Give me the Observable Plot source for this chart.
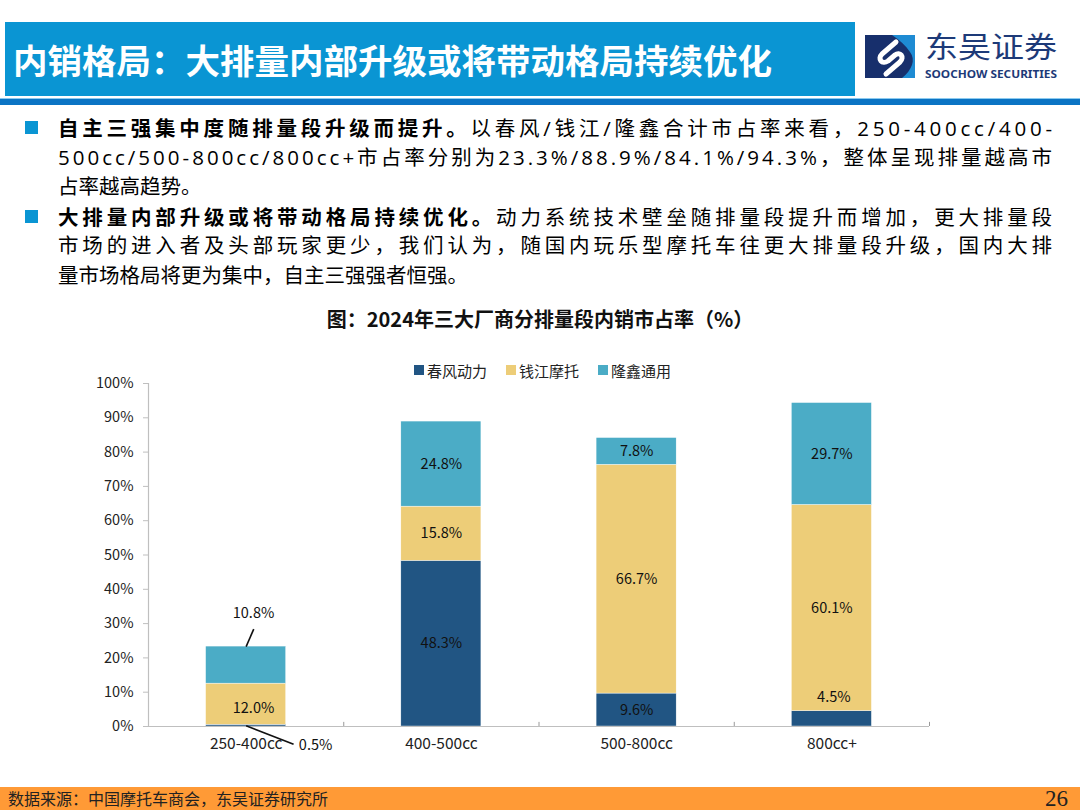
<!DOCTYPE html>
<html>
<head>
<meta charset="utf-8">
<script src="https://cdn.jsdelivr.net/npm/d3@7"></script>
<script src="https://cdn.jsdelivr.net/npm/@observablehq/plot@0.6"></script>
<style>
  html, body { margin: 0; padding: 0; background: #fff; }
  body { width: 1080px; height: 810px; position: relative; overflow: hidden; font-family: "Noto Sans CJK SC", "Noto Sans", sans-serif; }
  .abs { position: absolute; }
  #hdr { left: 5px; top: 22px; width: 850px; height: 74px; background: #0A95D3; }
  #hdr span { position: absolute; left: 8px; top: 0; line-height: 74px; font-size: 34.5px; font-weight: 700; color: #fff; white-space: nowrap; }
  #rule { left: 0; top: 98px; width: 1080px; height: 6px; background: #0B74C4; border-top: 1px solid #8CCBF0; }
  .line { position: absolute; left: 58px; height: 29.5px; line-height: 29.5px; font-size: 20.5px; color: #000; white-space: nowrap; font-family: "Open Sans", "Noto Sans CJK SC", sans-serif; }
  .line b { font-family: "Noto Sans CJK SC", sans-serif; }
  .sq { position: absolute; left: 25px; width: 13px; height: 13px; background: #0A95D3; }
  #ctitle { left: 0; width: 1080px; top: 304px; text-align: center; font-size: 20px; font-weight: 700; color: #111; }
  #legend { left: 414px; top: 358px; font-size: 15px; color: #222; white-space: nowrap; }
  #legend .item { display: inline-flex; align-items: center; margin-right: 19px; }
  #legend .sw { width: 10px; height: 10px; margin-right: 3px; display: inline-block; }
  #chart { left: 0; top: 350px; }
  #footer { left: 0; top: 787px; width: 1080px; height: 23px; background: #FF9A36; }
  #footer .src { position: absolute; left: 8px; top: 0; line-height: 23px; font-size: 16px; color: #222; }
  #footer .pg { position: absolute; right: 12px; top: -2px; line-height: 27px; font-size: 23px; color: #222; font-family: "Liberation Serif", "DejaVu Serif", serif; }
  #chart svg [aria-label="y-axis tick"] { stroke: #BFBFBF; }
  #chart svg [aria-label="x-axis tick label"], #chart svg g[aria-label="x-axis"] text { font-size: 15.5px; }
  #chart svg [aria-label="y-axis tick label"], #chart svg g[aria-label="y-axis"] text { font-size: 14.5px; }
</style>
</head>
<body>
<script>
// ---- data ----
const categories = ["250-400cc", "400-500cc", "500-800cc", "800cc+"];
const seriesNames = ["春风动力", "钱江摩托", "隆鑫通用"];
const seriesColors = ["#215583", "#EDCD78", "#4BACC6"];
const chunfeng = [0.5, 48.3, 9.6, 4.5];
const qianjiang = [12.0, 15.8, 66.7, 60.1];
const longxin = [10.8, 24.8, 7.8, 29.7];
const yTicks = [0, 10, 20, 30, 40, 50, 60, 70, 80, 90, 100];

// labels that sit outside the middle of their segment (annotation placement)
const labelPlacement = [
  {category: "250-400cc", series: "春风动力", y: -5.4, dx: 0.27, anchor: "start"},
  {category: "250-400cc", series: "钱江摩托", y: 5.4, dx: 0.038, anchor: "middle"},
  {category: "250-400cc", series: "隆鑫通用", y: 32.9, dx: 0.038, anchor: "middle"},
  {category: "800cc+", series: "春风动力", y: 8.4, dx: 0.01, anchor: "middle"}
];
const leaderLines = [
  {category: "250-400cc", y1: 23.3, y2: 28.4, dx1: 0, dx2: 0.039},
  {category: "250-400cc", y1: 0.2, y2: -5.2, dx1: 0, dx2: 0.243}
];
</script>

<div id="hdr" class="abs"><span>内销格局：大排量内部升级或将带动格局持续优化</span></div>
<svg class="abs" style="left:862px;top:30px;overflow:visible" width="215" height="52" viewBox="0 0 215 52">
  <rect x="3" y="5" width="50" height="43" fill="#172F6C"/>
  <path d="M30 5 H53 V48 H40 C50 40 54 30 48 22 C44 16 38 10 30 5 Z" fill="#1E8BD3"/>
  <path d="M34 12 L20 24 C15 29 20 35 26 31 L33 25 C38 21 43 27 38 32 L24 44" fill="none" stroke="#fff" stroke-width="5" stroke-linecap="round" stroke-linejoin="round"/>
  <text x="63" y="27.5" font-size="29" fill="#1D3A78" font-family="Noto Sans CJK SC" textLength="132" lengthAdjust="spacingAndGlyphs">东吴证券</text>
  <text x="63" y="48" font-size="10.5" font-weight="700" fill="#1D3A78" font-family="Noto Sans, sans-serif" textLength="132" lengthAdjust="spacingAndGlyphs">SOOCHOW SECURITIES</text>
</svg>
<div id="rule" class="abs"></div>

<div class="sq" style="top:121px"></div>
<div class="line just" style="top:113px"><span><b>自主三强集中度随排量段升级而提升。</b>以春风/钱江/隆鑫合计市占率来看，250-400cc/400-</span></div>
<div class="line just" style="top:142.5px"><span>500cc/500-800cc/800cc+市占率分别为23.3%/88.9%/84.1%/94.3%，整体呈现排量越高市</span></div>
<div class="line" style="top:172px"><span>占率越高趋势。</span></div>
<div class="sq" style="top:209.5px"></div>
<div class="line just" style="top:201.5px"><span><b>大排量内部升级或将带动格局持续优化。</b>动力系统技术壁垒随排量段提升而增加，更大排量段</span></div>
<div class="line just" style="top:231px"><span>市场的进入者及头部玩家更少，我们认为，随国内玩乐型摩托车往更大排量段升级，国内大排</span></div>
<div class="line" style="top:260.5px"><span>量市场格局将更为集中，自主三强强者恒强。</span></div>

<div id="ctitle" class="abs">图：2024年三大厂商分排量段内销市占率（%）</div>
<div id="legend" class="abs"></div>
<div id="chart" class="abs"></div>

<div id="footer" class="abs"><span class="src">数据来源：中国摩托车商会，东吴证券研究所</span><span class="pg">26</span></div>

<script>
// justify full lines by even letter spacing
document.querySelectorAll(".line.just").forEach(el => {
  const span = el.firstElementChild;
  const w = span.getBoundingClientRect().width;
  const n = span.textContent.length;
  const ls = (994 - w) / (n - 1);
  el.style.letterSpacing = ls + "px";
});

const valuesBySeries = [chunfeng, qianjiang, longxin];
const rows = [];
categories.forEach((cat, i) => {
  let base = 0;
  seriesNames.forEach((s, k) => {
    const v = valuesBySeries[k][i];
    rows.push({category: cat, i, series: s, value: v, y1: base, y2: base + v, mid: base + v / 2});
    base += v;
  });
});
const labels = rows.map(r => {
  const p = labelPlacement.find(q => q.category === r.category && q.series === r.series);
  return {...r, ly: p ? p.y : r.mid, lx: r.i + (p ? p.dx : 0), anchor: p ? p.anchor : "middle", text: r.value.toFixed(1) + "%"};
});
const leaders = leaderLines.map(l => {
  const i = categories.indexOf(l.category);
  return {x1: i + l.dx1, x2: i + l.dx2, y1: l.y1, y2: l.y2};
});

// legend
const legend = document.getElementById("legend");
seriesNames.forEach((s, k) => {
  const it = document.createElement("span");
  it.className = "item";
  it.innerHTML = `<span class="sw" style="background:${seriesColors[k]}"></span>${s}`;
  legend.appendChild(it);
});

const bandHalfInset = 57.6;
const chart = Plot.plot({
  width: 1080,
  height: 420,
  marginLeft: 148,
  marginRight: 151,
  marginTop: 33,
  marginBottom: 44,
  style: {fontFamily: "Noto Sans CJK SC, Noto Sans, sans-serif", fontSize: "14px", color: "#222", background: "transparent", overflow: "visible"},
  x: {type: "linear", domain: [-0.5, categories.length - 0.5], ticks: categories.map((c, i) => i), tickFormat: i => categories[i], tickSize: 0, tickPadding: 11, label: null},
  y: {domain: [0, 100], ticks: yTicks, tickFormat: d => d + "%", tickSize: 5, tickPadding: 10, label: null},
  color: {domain: seriesNames, range: seriesColors},
  marks: [
    Plot.rectY(rows, {x1: d => d.i - 0.5, x2: d => d.i + 0.5, y1: "y1", y2: "y2", fill: "series", insetLeft: bandHalfInset, insetRight: bandHalfInset, stroke: "#ffffff", strokeWidth: 0.4}),
    Plot.ruleY([0], {stroke: "#BFBFBF", strokeWidth: 1.2}),
    Plot.ruleX([-0.5], {y1: 0, y2: 100, stroke: "#BFBFBF", strokeWidth: 1.2}),
    Plot.ruleX(categories.map((c, i) => i + 0.5), {y1: 0, y2: 1.2, stroke: "#999", strokeWidth: 1}),
    Plot.link(leaders, {x1: "x1", x2: "x2", y1: "y1", y2: "y2", stroke: "#111", strokeWidth: 1.6}),
    Plot.text(labels.filter(d => d.anchor === "middle"), {x: "lx", y: "ly", text: "text", textAnchor: "middle", fill: "#111", fontSize: 14.5}),
    Plot.text(labels.filter(d => d.anchor === "start"), {x: "lx", y: "ly", text: "text", textAnchor: "start", fill: "#111", fontSize: 14.5})
  ]
});
document.getElementById("chart").appendChild(chart);
</script>
</body>
</html>
